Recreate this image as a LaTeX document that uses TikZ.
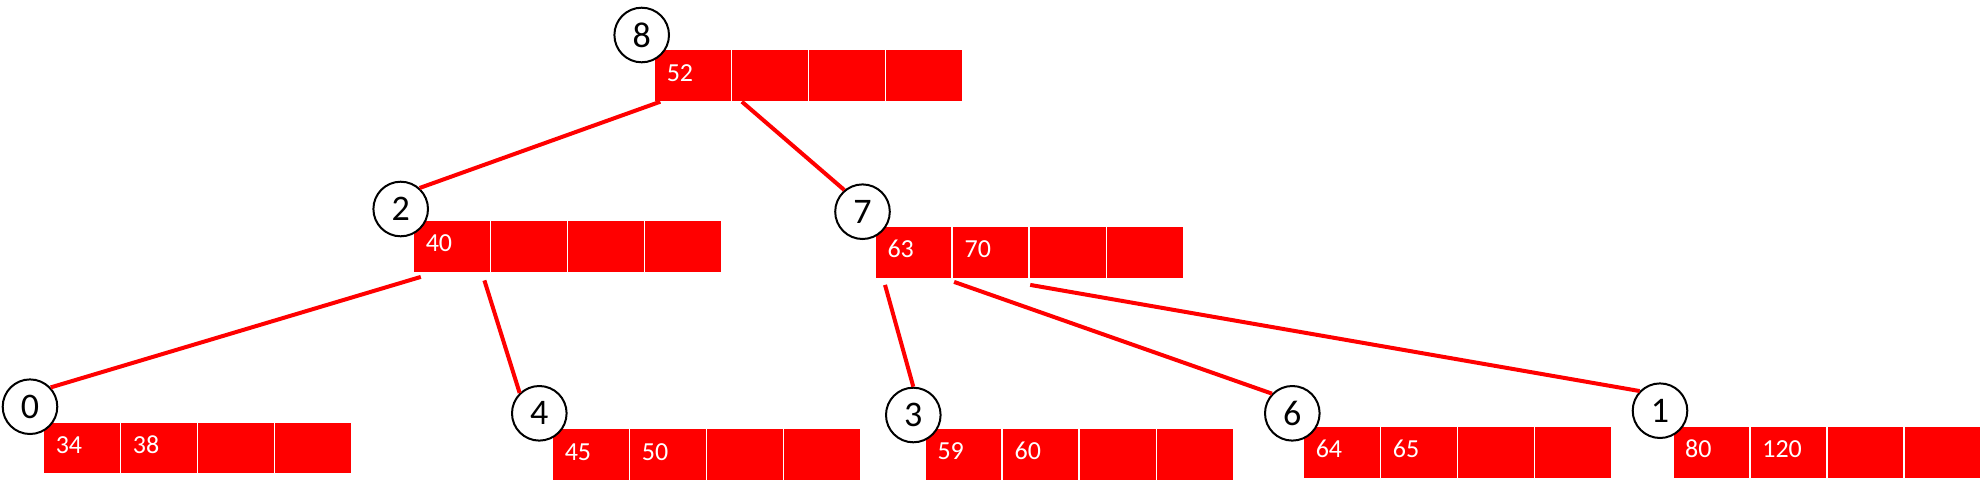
\documentclass[tikz,border=0pt]{standalone}
\usepackage{fontspec}
\setmainfont{Carlito}
\usepackage{tikz}
\definecolor{keyred}{RGB}{255,0,0}
\tikzset{every picture/.style={line width=0.75pt}}
\tikzset{
  cell/.style={anchor=north west, draw=white, line width=1.6pt, fill=keyred, text=white,
    minimum width=77.1pt, minimum height=52.4pt, text width=52.1pt, inner xsep=12.5pt,
    inner ysep=0pt, outer sep=0pt, align=left, text height=17pt, text depth=6pt,
    font=\fontsize{26}{30}\selectfont},
  pagenum/.style={circle, draw=black, line width=2pt, fill=white, minimum size=54.6pt,
    inner sep=0pt, font=\fontsize{36}{40}\selectfont},
  link/.style={draw=keyred, line width=4pt}
}

\begin{document}
\begin{tikzpicture}[x=1pt,y=1pt,yscale=-1,xscale=1]
		\useasboundingbox (0,0) rectangle (1986,488);
		
		%Shape: Rectangle [block 8]
		\node [cell] (b8c1) at (654.3,49.3) {52};
		\node [cell] (b8c2) at (731.4,49.3) {};
		\node [cell] (b8c3) at (808.5,49.3) {};
		\node [cell] (b8c4) at (885.6,49.3) {};
		%Shape: Rectangle [block 2]
		\node [cell] (b2c1) at (413.3,220) {40};
		\node [cell] (b2c2) at (490.4,220) {};
		\node [cell] (b2c3) at (567.5,220) {};
		\node [cell] (b2c4) at (644.6,220) {};
		%Shape: Rectangle [block 7]
		\node [cell] (b7c1) at (875,226) {63};
		\node [cell] (b7c2) at (952.1,226) {70};
		\node [cell] (b7c3) at (1029.2,226) {};
		\node [cell] (b7c4) at (1106.3,226) {};
		%Shape: Rectangle [block 0]
		\node [cell] (b0c1) at (43.3,421.7) {34};
		\node [cell] (b0c2) at (120.4,421.7) {38};
		\node [cell] (b0c3) at (197.5,421.7) {};
		\node [cell] (b0c4) at (274.6,421.7) {};
		%Shape: Rectangle [block 4]
		\node [cell] (b4c1) at (552.3,428.3) {45};
		\node [cell] (b4c2) at (629.4,428.3) {50};
		\node [cell] (b4c3) at (706.5,428.3) {};
		\node [cell] (b4c4) at (783.6,428.3) {};
		%Shape: Rectangle [block 3]
		\node [cell] (b3c1) at (925,428) {59};
		\node [cell] (b3c2) at (1002.1,428) {60};
		\node [cell] (b3c3) at (1079.2,428) {};
		\node [cell] (b3c4) at (1156.3,428) {};
		%Shape: Rectangle [block 6]
		\node [cell] (b6c1) at (1303.3,426) {64};
		\node [cell] (b6c2) at (1380.4,426) {65};
		\node [cell] (b6c3) at (1457.5,426) {};
		\node [cell] (b6c4) at (1534.6,426) {};
		%Shape: Rectangle [block 1]
		\node [cell] (b1c1) at (1672.7,426) {80};
		\node [cell] (b1c2) at (1749.8,426) {120};
		\node [cell] (b1c3) at (1826.9,426) {};
		\node [cell] (b1c4) at (1904,426) {};
		
		%Shape: Circle
		\node [pagenum] (n8) at (641.7,35) {8};
		\node [pagenum] (n2) at (400.7,209) {2};
		\node [pagenum] (n7) at (862.5,211.7) {7};
		\node [pagenum] (n0) at (30,406.7) {0};
		\node [pagenum] (n4) at (539.3,413.3) {4};
		\node [pagenum] (n3) at (913.3,415) {3};
		\node [pagenum] (n6) at (1292.3,413.3) {6};
		\node [pagenum] (n1) at (1660,410.7) {1};
		
		%Straight Lines
		\draw [link] ([xshift=6pt]b8c1.south west) -- (n2.48) ;
		\draw [link] ([xshift=10.5pt]b8c2.south west) -- (n7.130) ;
		\draw [link] ([xshift=7.5pt,yshift=4.5pt]b2c1.south west) -- (n0.43) ;
		\draw [link] ([xshift=-6pt,yshift=8pt]b2c2.south west) -- (n4.134) ;
		\draw [link] ([xshift=10pt,yshift=6.5pt]b7c1.south west) -- (n3.90) ;
		\draw [link] ([xshift=2pt,yshift=3.5pt]b7c2.south west) -- (n6.136) ;
		\draw [link] ([xshift=1pt,yshift=6.5pt]b7c3.south west) -- (n1.136) ;
		
\end{tikzpicture}
\end{document}
